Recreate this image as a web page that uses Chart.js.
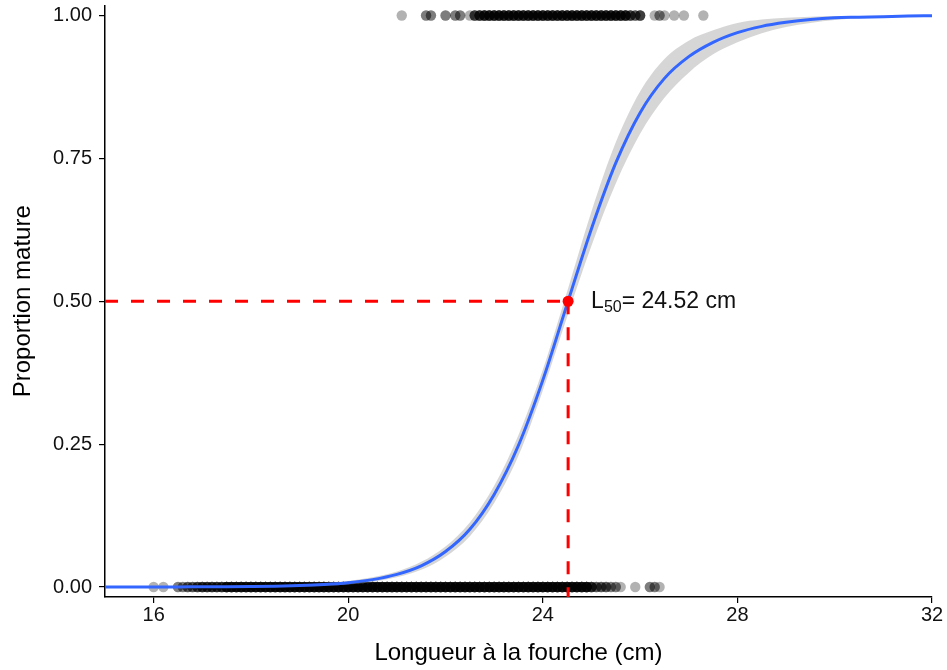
<!DOCTYPE html>
<html>
<head>
<meta charset="utf-8">
<script src="https://cdn.jsdelivr.net/npm/chart.js@4.4.0/dist/chart.umd.min.js"></script>
<style>
    html, body { margin: 0; padding: 0; background: #fff; }
    #wrap { width: 947px; height: 670px; position: relative; }
</style>
</head>
<body>
<div id="wrap"><canvas id="maturityChart"></canvas></div>
<script>
// Maturity ogive - proportion mature vs fork length

const L50 = 24.52;
const xMin = 15.0, xMax = 32;
const yMin = -0.0175, yMax = 1.0175;
const xTicks = [16, 20, 24, 28, 32];
const yTicks = [0, 0.25, 0.5, 0.75, 1];

// fitted curve and its confidence band
const curveX = [15.0, 15.5, 16, 16.5, 17, 17.5, 18, 18.5, 19, 19.5, 20, 20.5, 21, 21.5, 22, 22.5, 23, 23.5,
    24, 24.5, 25, 25.5, 26, 26.5, 27, 27.5, 28, 28.5, 29, 29.5, 30, 30.5, 31, 31.5, 32];
const curveY = [0.0000, 0.0001, 0.0001, 0.0002, 0.0003, 0.0005, 0.0009, 0.0015, 0.0026, 0.0044, 0.0075, 0.0129,
    0.022, 0.037, 0.062, 0.101, 0.162, 0.248, 0.362, 0.495, 0.627, 0.742, 0.830, 0.890, 0.928, 0.953, 0.970,
    0.981, 0.988, 0.993, 0.996, 0.997, 0.998, 0.999, 0.9995];
const bandLow = [0.0000, 0.0000, 0.0000, 0.0000, 0.0001, 0.0002, 0.0004, 0.0006, 0.0012, 0.0024, 0.0045, 0.0089,
    0.017, 0.030, 0.053, 0.089, 0.147, 0.230, 0.344, 0.473, 0.597, 0.706, 0.793, 0.856, 0.900, 0.932, 0.953,
    0.969, 0.980, 0.987, 0.992, 0.995, 0.9965, 0.998, 0.999];
const bandHigh = [0.0002, 0.0003, 0.0003, 0.0005, 0.0006, 0.0009, 0.0015, 0.0025, 0.0041, 0.0064, 0.0105, 0.0169,
    0.027, 0.044, 0.071, 0.113, 0.177, 0.266, 0.380, 0.517, 0.657, 0.778, 0.867, 0.924, 0.956, 0.974, 0.987,
    0.993, 0.996, 0.998, 0.999, 0.9993, 0.9995, 0.9997, 0.9999];

// observed fish: immature (0) and mature (1), length and number of fish at that length
const immatureLen = [16.0, 16.2, 16.5, 16.6, 16.7, 16.8, 16.9,
    17.0, 17.1, 17.2, 17.3, 17.4, 17.5, 17.6, 17.7, 17.8, 17.9,
    18.0, 18.1, 18.2, 18.3, 18.4, 18.5, 18.6, 18.7, 18.8, 18.9,
    19.0, 19.1, 19.2, 19.3, 19.4, 19.5, 19.6, 19.7, 19.8, 19.9,
    20.0, 20.1, 20.2, 20.3, 20.4, 20.5, 20.6, 20.7, 20.8, 20.9,
    21.0, 21.1, 21.2, 21.3, 21.4, 21.5, 21.6, 21.7, 21.8, 21.9,
    22.0, 22.1, 22.2, 22.3, 22.4, 22.5, 22.6, 22.7, 22.8, 22.9,
    23.0, 23.1, 23.2, 23.3, 23.4, 23.5, 23.6, 23.7, 23.8, 23.9,
    24.0, 24.1, 24.2, 24.3, 24.4, 24.5, 24.6, 24.7, 24.8, 24.9,
    25.0, 25.1, 25.2, 25.3, 25.4, 25.5, 25.6, 25.9, 26.2, 26.3, 26.4];
const immatureCount = [1, 1, 2, 2, 3, 3, 4,
    5, 5, 5, 5, 5, 8, 8, 8, 8, 8,
    8, 8, 8, 8, 8, 8, 8, 8, 8, 8,
    8, 8, 8, 8, 8, 8, 8, 8, 8, 8,
    8, 8, 8, 8, 8, 8, 8, 8, 8, 8,
    8, 8, 8, 8, 8, 8, 8, 8, 8, 8,
    8, 8, 8, 8, 8, 8, 8, 8, 8, 8,
    8, 8, 8, 8, 8, 8, 8, 8, 8, 8,
    8, 8, 8, 8, 8, 8, 8, 8, 8, 8,
    5, 3, 3, 3, 2, 2, 1, 1, 2, 2, 1];

const matureLen = [21.1, 21.6, 21.7, 22.0, 22.2, 22.3, 22.5,
    22.6, 22.7, 22.8, 22.9,
    23.0, 23.1, 23.2, 23.3, 23.4, 23.5, 23.6, 23.7, 23.8, 23.9,
    24.0, 24.1, 24.2, 24.3, 24.4, 24.5, 24.6, 24.7, 24.8, 24.9,
    25.0, 25.1, 25.2, 25.3, 25.4, 25.5, 25.6, 25.7,
    25.8, 25.9, 26.0, 26.3, 26.4, 26.5, 26.7, 26.9, 27.3];
const matureCount = [1, 2, 2, 2, 2, 2, 1,
    4, 5, 6, 6,
    6, 6, 6, 6, 6, 6, 6, 6, 6, 6,
    6, 6, 6, 6, 6, 6, 6, 6, 6, 6,
    6, 6, 6, 6, 6, 6, 6, 6,
    4, 3, 4, 1, 2, 1, 1, 1, 1];

const FONT = "'Liberation Sans', Arial, sans-serif";

function expandPoints(lengths, counts, yValue) {
    const pts = [];
    lengths.forEach((len, i) => {
        for (let k = 0; k < counts[i]; k++) pts.push({ x: len, y: yValue });
    });
    return pts;
}

const toXY = (ys) => curveX.map((x, i) => ({ x: x, y: ys[i] }));

// L50 annotation text with subscript
const l50Label = {
    id: 'l50Label',
    afterDatasetsDraw(chart) {
        const { ctx, scales } = chart;
        let px = scales.x.getPixelForValue(L50) + 23;
        const py = scales.y.getPixelForValue(0.5);
        ctx.save();
        ctx.fillStyle = '#111';
        ctx.textBaseline = 'middle';
        ctx.textAlign = 'left';
        ctx.font = `23px ${FONT}`;
        ctx.fillText('L', px, py);
        px += ctx.measureText('L').width;
        ctx.font = `16px ${FONT}`;
        ctx.fillText('50', px, py + 6);
        px += ctx.measureText('50').width;
        ctx.font = `23px ${FONT}`;
        ctx.fillText('= ' + L50.toFixed(2) + ' cm', px, py);
        ctx.restore();
    }
};

const axisCommon = {
    type: 'linear',
    border: { display: true, color: '#000', width: 1.5 },
    grid: { display: true, drawOnChartArea: false, drawTicks: true, tickLength: 6, color: '#000', lineWidth: 1.2 },
};

new Chart(document.getElementById('maturityChart'), {
    type: 'line',
    data: {
        datasets: [
            {
                type: 'scatter', data: [{ x: L50, y: 0.5 }],
                backgroundColor: '#ff0000', borderWidth: 0, pointRadius: 5.5, order: 0
            },
            {
                data: [{ x: L50, y: 0.5 }, { x: L50, y: yMin }],
                borderColor: '#ff0000', borderWidth: 3, borderDash: [13, 13], pointRadius: 0, fill: false, order: 1
            },
            {
                data: [{ x: xMin, y: 0.5 }, { x: L50, y: 0.5 }],
                borderColor: '#ff0000', borderWidth: 3, borderDash: [13, 13], pointRadius: 0, fill: false, order: 2
            },
            {
                data: toXY(curveY),
                borderColor: '#3366FF', borderWidth: 3, pointRadius: 0, fill: false,
                cubicInterpolationMode: 'monotone', order: 3
            },
            {
                data: toXY(bandLow),
                borderWidth: 0, borderColor: 'rgba(0,0,0,0)', pointRadius: 0, fill: false,
                cubicInterpolationMode: 'monotone', order: 5
            },
            {
                data: toXY(bandHigh),
                borderWidth: 0, borderColor: 'rgba(0,0,0,0)', pointRadius: 0,
                fill: '-1', backgroundColor: 'rgba(153,153,153,0.4)',
                cubicInterpolationMode: 'monotone', order: 4
            },
            {
                type: 'scatter', data: expandPoints(matureLen, matureCount, 1),
                backgroundColor: 'rgba(0,0,0,0.3)', borderWidth: 0, pointRadius: 5.2, order: 6
            },
            {
                type: 'scatter', data: expandPoints(immatureLen, immatureCount, 0),
                backgroundColor: 'rgba(0,0,0,0.3)', borderWidth: 0, pointRadius: 5.2, order: 7
            }
        ]
    },
    options: {
        responsive: true,
        maintainAspectRatio: false,
        animation: false,
        events: [],
        layout: { padding: { top: 5, right: 15, left: 0, bottom: 0 } },
        plugins: { legend: { display: false }, tooltip: { enabled: false } },
        scales: {
            x: {
                ...axisCommon,
                min: xMin, max: xMax,
                afterBuildTicks: (s) => { s.ticks = xTicks.map(v => ({ value: v })); },
                afterFit: (s) => { s.height = 73; },
                ticks: { autoSkip: false, maxRotation: 0, padding: 0, color: '#111', font: { family: FONT, size: 20 } },
                title: {
                    display: true, text: 'Longueur à la fourche (cm)', color: '#000',
                    font: { family: FONT, size: 24 }, padding: { top: 0, bottom: 2 }
                }
            },
            y: {
                ...axisCommon,
                min: yMin, max: yMax,
                afterBuildTicks: (s) => { s.ticks = yTicks.map(v => ({ value: v })); },
                afterFit: (s) => { s.width = 105; s.paddingTop = 0; s.paddingBottom = 0; },
                ticks: {
                    autoSkip: false, padding: 7, color: '#111', font: { family: FONT, size: 20 },
                    callback: (v) => Number(v).toFixed(2)
                },
                title: {
                    display: true, text: 'Proportion mature', color: '#000',
                    font: { family: FONT, size: 24 }, padding: { top: 9, bottom: 0 }
                }
            }
        }
    },
    plugins: [l50Label]
});
</script>
</body>
</html>
